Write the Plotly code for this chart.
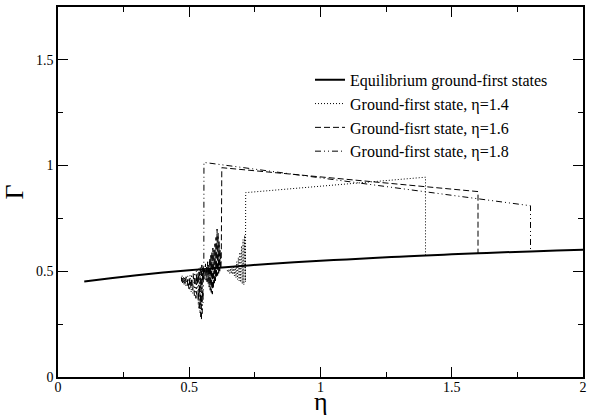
import plotly.graph_objects as go

# Equilibrium ground-first states
eq_x = [0.1, 0.2, 0.3, 0.4, 0.5, 0.6, 0.7, 0.8, 0.9, 1.0, 1.1, 1.2, 1.3, 1.4, 1.5, 1.6, 1.7, 1.8, 1.9, 2.0]
eq_y = [0.452, 0.467, 0.481, 0.494, 0.505, 0.515, 0.525, 0.535, 0.543, 0.550, 0.556, 0.563, 0.569, 0.575,
        0.580, 0.585, 0.590, 0.594, 0.598, 0.602]

# Ground-first state, eta=1.4
x14 = [0.645, 0.648, 0.651, 0.654, 0.657, 0.660, 0.663, 0.666, 0.669, 0.672, 0.675, 0.678,
       0.681, 0.684, 0.687, 0.690, 0.693, 0.696, 0.699, 0.702, 0.705, 0.708, 0.711, 0.714,
       0.715, 1.4, 1.4]
y14 = [0.505, 0.495, 0.510, 0.490, 0.512, 0.488, 0.515, 0.485, 0.520, 0.478, 0.530, 0.470,
       0.545, 0.462, 0.565, 0.455, 0.590, 0.448, 0.620, 0.440, 0.650, 0.436, 0.670, 0.450,
       0.872, 0.945, 0.575]

# Ground-first state, eta=1.6
x16 = [0.546, 0.548, 0.550, 0.552, 0.554, 0.556, 0.558, 0.560, 0.562, 0.564,
       0.566, 0.568, 0.570, 0.572, 0.574, 0.576, 0.578, 0.580, 0.582, 0.584,
       0.586, 0.588, 0.590, 0.592, 0.594, 0.596, 0.598, 0.600, 0.602, 0.604,
       0.606, 0.608, 0.610, 0.612, 0.614, 0.616, 0.618, 0.620, 0.622,
       0.624, 1.6, 1.6]
y16 = [0.500, 0.478, 0.515, 0.470, 0.525, 0.462, 0.510, 0.480, 0.535, 0.458,
       0.520, 0.450, 0.545, 0.440, 0.530, 0.425, 0.560, 0.410, 0.575, 0.400,
       0.590, 0.392, 0.610, 0.420, 0.600, 0.440, 0.630, 0.455, 0.660, 0.470,
       0.700, 0.480, 0.680, 0.490, 0.640, 0.500, 0.600, 0.510, 0.560,
       0.990, 0.877, 0.585]

# Ground-first state, eta=1.8
x18 = [0.4700, 0.4715, 0.4730, 0.4745, 0.4760, 0.4775, 0.4790, 0.4805, 0.4820, 0.4835,
       0.4850, 0.4865, 0.4880, 0.4895, 0.4910, 0.4925, 0.4940, 0.4955, 0.4970, 0.4985,
       0.5000, 0.5015, 0.5030, 0.5045, 0.5060, 0.5075, 0.5090, 0.5105, 0.5120, 0.5135,
       0.5150, 0.5165, 0.5180, 0.5195, 0.5210, 0.5225, 0.5240, 0.5255, 0.5270, 0.5285,
       0.5300, 0.5315, 0.5330, 0.5345, 0.5360, 0.5375, 0.5390, 0.5405, 0.5420, 0.5435,
       0.5450, 0.5465, 0.5480, 0.5495, 0.5510, 0.5525, 0.5540, 0.5555,
       0.556, 1.8, 1.8]
y18 = [0.472, 0.452, 0.480, 0.445, 0.468, 0.450, 0.476, 0.438, 0.470, 0.445,
       0.465, 0.430, 0.474, 0.440, 0.460, 0.425, 0.478, 0.435, 0.455, 0.418,
       0.470, 0.410, 0.482, 0.430, 0.458, 0.400, 0.486, 0.420, 0.462, 0.395,
       0.490, 0.405, 0.470, 0.385, 0.494, 0.415, 0.478, 0.372, 0.500, 0.390,
       0.505, 0.360, 0.480, 0.340, 0.512, 0.325, 0.495, 0.300, 0.520, 0.285,
       0.505, 0.270, 0.530, 0.300, 0.515, 0.350, 0.505, 0.480,
       1.015, 0.810, 0.594]

x_ticks = [0, 0.5, 1, 1.5, 2]
x_tick_labels = ["0", "0.5", "1", "1.5", "2"]
y_ticks = [0, 0.5, 1, 1.5]
y_tick_labels = ["0", "0.5", "1", "1.5"]

SERIF = "Liberation Serif"

fig = go.Figure()
fig.add_trace(go.Scatter(x=eq_x, y=eq_y, mode="lines", line=dict(color="black", width=2, shape="spline"),
                         name="Equilibrium ground-first states"))
fig.add_trace(go.Scatter(x=x14, y=y14, mode="lines", line=dict(color="black", width=1, dash="1px,2px"),
                         name="Ground-first state, η=1.4"))
fig.add_trace(go.Scatter(x=x16, y=y16, mode="lines", line=dict(color="black", width=1, dash="6px,3px"),
                         name="Ground-fisrt state, η=1.6"))
fig.add_trace(go.Scatter(x=x18, y=y18, mode="lines",
                         line=dict(color="black", width=1, dash="6px,3px,1px,3px,1px,3px"),
                         name="Ground-first state, η=1.8"))

axis_common = dict(
    showline=True, linecolor="black", linewidth=1.5, mirror="ticks",
    ticks="inside", ticklen=10, tickwidth=1, tickcolor="black",
    showgrid=False, zeroline=False,
    tickfont=dict(family=SERIF, size=14, color="black"),
)

fig.update_xaxes(range=[0, 2], tickvals=x_ticks, ticktext=x_tick_labels,
                 ticklabelstandoff=-4,
                 minor=dict(ticks="inside", ticklen=5, dtick=0.25, tickcolor="black", showgrid=False),
                 **axis_common)
fig.update_yaxes(range=[0, 1.75], tickvals=y_ticks, ticktext=y_tick_labels,
                 minor=dict(ticks="inside", ticklen=5, dtick=0.25, tickcolor="black", showgrid=False),
                 title=dict(text="Γ", font=dict(family=SERIF, size=26, color="black"), standoff=6),
                 **axis_common)

fig.add_annotation(text="η", xref="paper", yref="paper", x=0.5, y=-0.1108,
                   xanchor="center", yanchor="bottom", showarrow=False,
                   font=dict(family=SERIF, size=26, color="black"))

fig.update_layout(
    width=589, height=418,
    margin=dict(l=58, r=2, t=7, b=41),
    plot_bgcolor="white", paper_bgcolor="white",
    showlegend=True,
    legend=dict(x=0.48, y=0.849, xanchor="left", yanchor="top", bgcolor="rgba(0,0,0,0)",
                font=dict(family=SERIF, size=16, color="black"), tracegroupgap=0),
)

fig.write_html("out.html")
